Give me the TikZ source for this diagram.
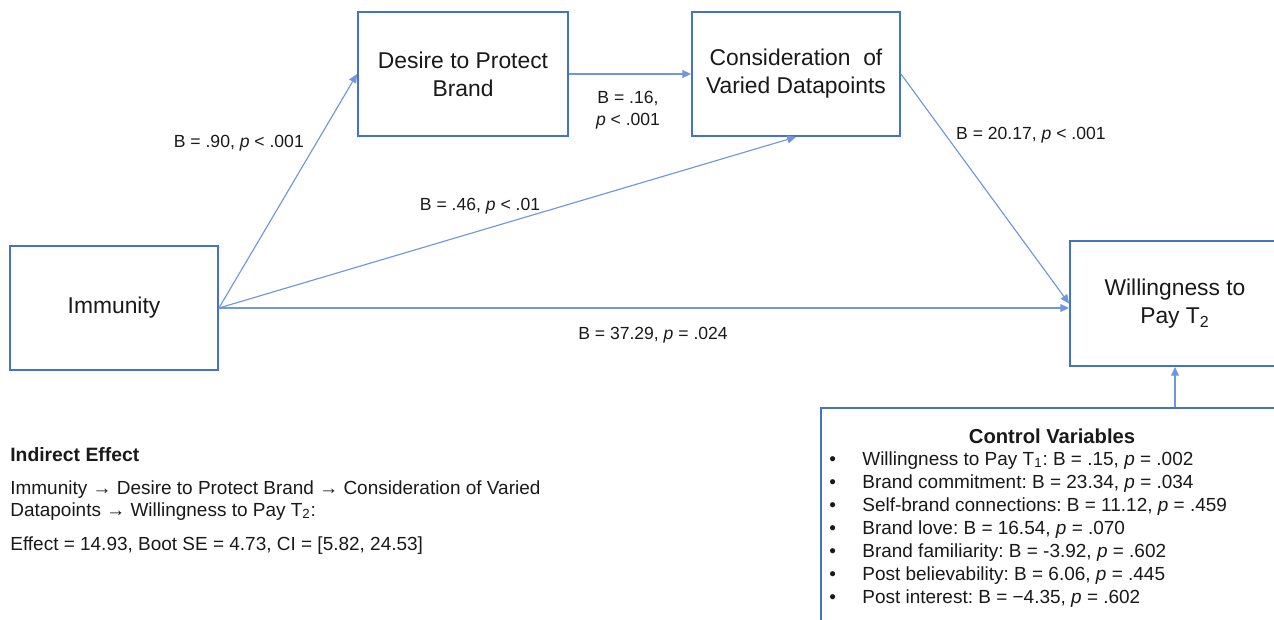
\documentclass[tikz,border=0pt]{standalone}
\usepackage{fontspec}
\setmainfont{Liberation Sans}
\usetikzlibrary{arrows.meta}
\definecolor{boxblue}{RGB}{68,114,196}
\definecolor{lineblue}{RGB}{112,150,220}
\frenchspacing

\begin{document}
\begin{tikzpicture}[x=0.02cm, y=-0.02cm,
  every node/.style={font=\fontsize{10}{12.5}\selectfont, text=black!90},
  vbox/.style={draw=boxblue, line width=1.1pt, fill=white, align=center,
               minimum width=4.16cm, minimum height=2.48cm,
               font=\fontsize{13}{16}\selectfont},
  link/.style={-{Triangle[length=5pt,width=4.5pt]}, draw=lineblue,
               line width=0.65pt},
  note/.style={font=\fontsize{10.8}{13}\selectfont, anchor=base west, inner sep=0pt}]

  \useasboundingbox (0,0) rectangle (1274,619);
  \clip (0,0) rectangle (1274,619);

  % Model boxes
  \node[vbox] (imm) at (114,308) {Immunity};
  \node[vbox, minimum width=4.2cm] (desire) at (463,74) {Desire to Protect\\Brand};
  \node[vbox] (cons) at (796,74) {Consideration~ of\\Varied Datapoints};
  \node[vbox, minimum width=4.2cm, minimum height=2.5cm] (will) at (1175,303.5)
    {Willingness to\\Pay T\textsubscript{2}};

  % Paths
  \draw[link] (imm.east) -- (desire.west);
  \draw[link] (imm.east) -- (cons.south);
  \draw[link] (imm.east) -- (imm.east -| will.west);
  \draw[link] (desire.east) -- (cons.west);
  \draw[link] (cons.east) -- (will.west);

  \node[anchor=east] (lbda) at (310,143) {B = .90, \textit{p} < .001};
  \node[align=center] (lbdc) at (628,110) {B = .16,\\\textit{p} < .001};
  \node (lbic) at (480,206) {B = .46, \textit{p} < .01};
  \node[anchor=west] (lbcw) at (950,135) {B = 20.17, \textit{p} < .001};
  \node (lbiw) at (653,335) {B = 37.29, \textit{p} = .024};

  % Controls
  \node[draw=boxblue, line width=1.1pt, fill=white, anchor=north west,
        minimum width=9.28cm, minimum height=4.8cm] (ctrl) at (820,407) {};
  \draw[link] (will.south |- ctrl.north) -- (will.south);
  \node[font=\fontsize{11.5}{14}\selectfont\bfseries] (ctrlhead) at (1052,436)
    {Control Variables};
  \foreach \t [count=\i] in {
      {Willingness to Pay T\textsubscript{1}: B = .15, \textit{p} = .002},
      {Brand commitment: B = 23.34, \textit{p} = .034},
      {Self-brand connections: B = 11.12, \textit{p} = .459},
      {Brand love: B = 16.54, \textit{p} = .070},
      {Brand familiarity: B = -3.92, \textit{p} = .602},
      {Post believability: B = 6.06, \textit{p} = .445},
      {Post interest: B = −4.35, \textit{p} = .602}} {
    \node[note] (cvb\i) at (829,{465+23*(\i-1)}) {•};
    \node[note] (cv\i) at (862,{465+23*(\i-1)}) {\t};
  }

  % Indirect effect
  \node[note, font=\fontsize{11}{13}\selectfont\bfseries] (indhead) at (10,461)
    {Indirect Effect};
  \node[note] (ind1) at (10,494)
    {Immunity → Desire to Protect Brand → Consideration of Varied};
  \node[note] (ind2) at (10,516) {Datapoints → Willingness to Pay T\textsubscript{2}:};
  \node[note] (ind3) at (10,550)
    {Effect = 14.93, Boot SE = 4.73, CI = [5.82, 24.53]};
\end{tikzpicture}
\end{document}
